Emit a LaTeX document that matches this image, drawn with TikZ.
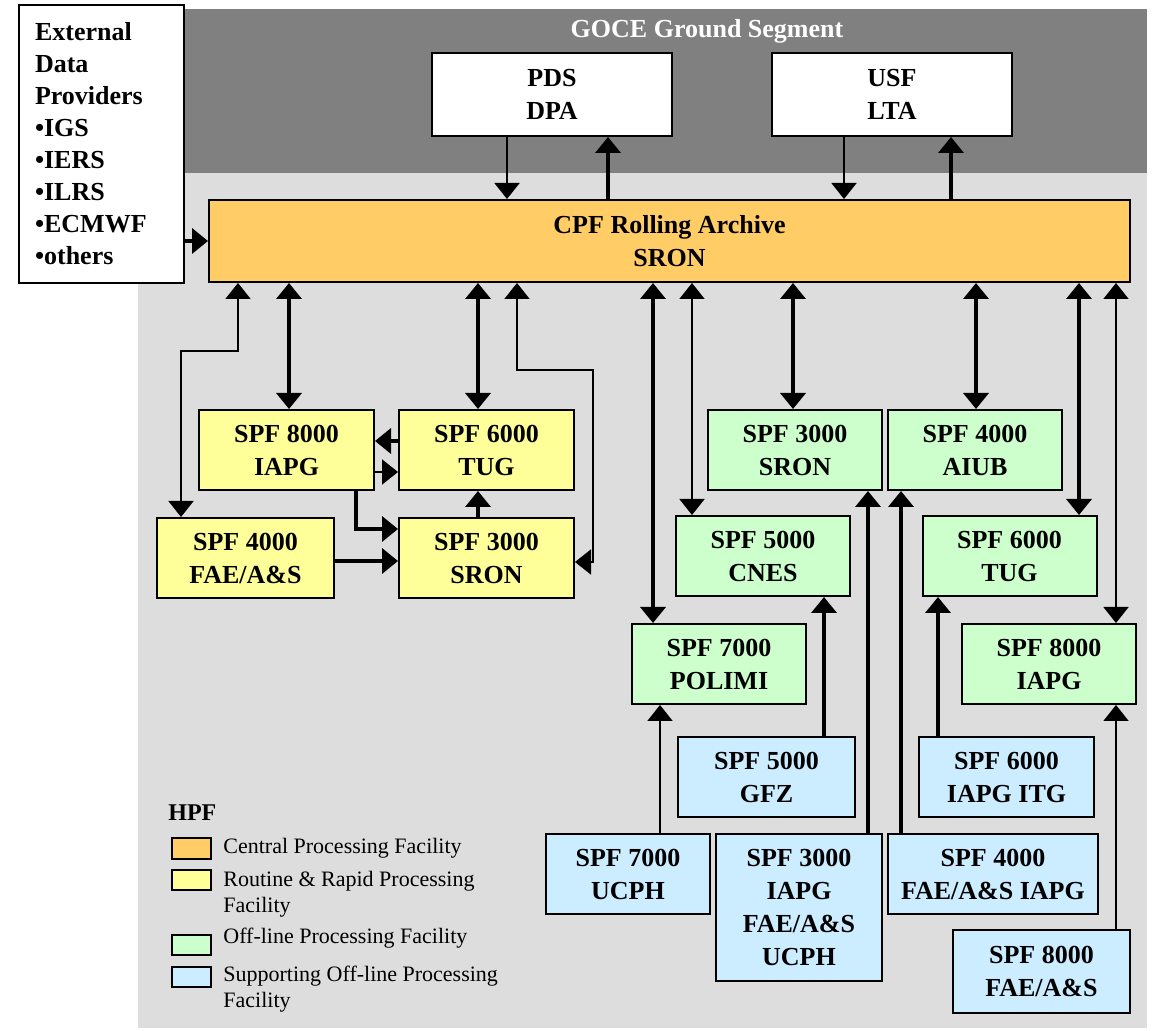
\documentclass[tikz,border=0pt]{standalone}
\usepackage{fontspec}
\setmainfont{Liberation Serif}
\usetikzlibrary{arrows.meta}

\definecolor{cpforange}{RGB}{255,204,102}
\definecolor{rrpfyellow}{RGB}{255,255,153}
\definecolor{opfgreen}{RGB}{204,255,204}
\definecolor{sopfblue}{RGB}{204,236,255}
\definecolor{gsdark}{RGB}{128,128,128}
\definecolor{hpflight}{RGB}{221,221,221}

\tikzset{
  facility/.style 2 args={draw, line width=1pt, align=center, inner sep=0pt,
    minimum width=#1*0.5pt, minimum height=#2*0.5pt,
    font=\fontsize{13}{16.5}\selectfont\bfseries},
  gsbox/.style={facility={240}{83}, fill=white},
  rrpf/.style={facility={175}{80}, fill=rrpfyellow},
  opf/.style={facility={174}{80}, fill=opfgreen},
  sopf/.style={facility={175}{80}, fill=sopfblue},
  swatch/.style={draw, line width=1pt, inner sep=0pt, minimum width=19.5pt, minimum height=10pt},
  legendtext/.style={anchor=west, align=left, inner sep=0pt, font=\fontsize{11}{13}\selectfont},
  flow/.style={line width=1.8pt},
  thinflow/.style={line width=0.9pt}
}

\begin{document}
\begin{tikzpicture}[x=0.5pt, y=-0.5pt, >={Triangle[width=12.5pt,length=8pt]}]
    \useasboundingbox (0,0) rectangle (1152,1031);

    % background areas
    \fill[hpflight] (138,173) rectangle (1147,1028);
    \fill[gsdark] (185,9) rectangle (1147,173);
    \node[text=white, font=\fontsize{13}{16}\selectfont\bfseries] (gs) at (707,31) {GOCE Ground Segment};

    % external data providers
    \node[draw, line width=1pt, fill=white, inner sep=0pt, align=left,
      minimum width=82.5pt, minimum height=139pt, text width=66.5pt,
      font=\fontsize{13}{16}\selectfont\bfseries] (edp) at (101.5,144)
      {External\\Data\\Providers\\•IGS\\•IERS\\•ILRS\\•ECMWF\\•others};

    % ground segment and central facility
    \node[gsbox] (pds) at (552,94.5) {PDS\\DPA};
    \node[gsbox] (usf) at (892,94.5) {USF\\LTA};
    \node[facility={921}{82}, fill=cpforange] (cpf) at (669.5,241) {CPF Rolling Archive\\SRON};

    % routine & rapid processing
    \node[rrpf] (y8000) at (286.5,450) {SPF 8000\\IAPG};
    \node[rrpf] (y6000) at (486.5,450) {SPF 6000\\TUG};
    \node[rrpf, minimum width=88.5pt] (y4000) at (245.5,558) {SPF 4000\\FAE/A\&S};
    \node[rrpf] (y3000) at (486.5,558) {SPF 3000\\SRON};

    % off-line processing
    \node[opf] (g3000) at (795,450) {SPF 3000\\SRON};
    \node[opf] (g4000) at (975,450) {SPF 4000\\AIUB};
    \node[opf] (g5000) at (763,556) {SPF 5000\\CNES};
    \node[opf] (g6000) at (1009.5,556) {SPF 6000\\TUG};
    \node[opf] (g7000) at (719,664) {SPF 7000\\POLIMI};
    \node[opf] (g8000) at (1049,664) {SPF 8000\\IAPG};

    % supporting off-line processing
    \node[sopf, minimum width=88.5pt] (b5000) at (766.5,777) {SPF 5000\\GFZ};
    \node[sopf] (b6000) at (1006.5,777) {SPF 6000\\IAPG ITG};
    \node[sopf, minimum width=82pt] (b7000) at (628,874) {SPF 7000\\UCPH};
    \node[sopf, minimum width=83pt, minimum height=73.5pt] (b3000) at (799,907.5) {SPF 3000\\IAPG\\FAE/A\&S\\UCPH};
    \node[sopf, minimum width=105pt] (b4000) at (993,874) {SPF 4000\\FAE/A\&S IAPG};
    \node[sopf, minimum width=88.5pt, minimum height=41.5pt] (b8000) at (1041.5,971.5) {SPF 8000\\FAE/A\&S};

    % lanes of the connectors
    \coordinate (pdsdown) at (507,0);
    \coordinate (pdsup) at (608,0);
    \coordinate (usfdown) at (844,0);
    \coordinate (usfup) at (951,0);
    \coordinate (lbend1) at (238,351);
    \coordinate (lbend2) at (181,351);
    \coordinate (iapg) at (289,0);
    \coordinate (tug) at (478,0);
    \coordinate (rbend1) at (517,370);
    \coordinate (rbend2) at (593,370);
    \coordinate (sronin) at (0,562);
    \coordinate (tugtoiapg) at (0,441);
    \coordinate (iapgtotug) at (0,472);
    \coordinate (ybend) at (356,529);
    \coordinate (faein) at (0,561);

    % external and ground segment links
    \draw[flow,->] (edp.east |- cpf.west) -- (cpf.west);
    \draw[thinflow,->] (pds.south -| pdsdown) -- (cpf.north -| pdsdown);
    \draw[flow,->] (cpf.north -| pdsup) -- (pds.south -| pdsup);
    \draw[thinflow,->] (usf.south -| usfdown) -- (cpf.north -| usfdown);
    \draw[flow,->] (cpf.north -| usfup) -- (usf.south -| usfup);

    % central facility <-> routine & rapid
    \draw[thinflow,<->] (cpf.south -| lbend1) -- (lbend1) -- (lbend2) -- (y4000.north -| lbend2);
    \draw[flow,<->] (cpf.south -| iapg) -- (y8000.north -| iapg);
    \draw[flow,<->] (cpf.south -| tug) -- (y6000.north -| tug);
    \draw[thinflow,<->] (cpf.south -| rbend1) -- (rbend1) -- (rbend2) |- (y3000.east |- sronin);

    % inside routine & rapid
    \draw[flow,->] (y6000.west |- tugtoiapg) -- (y8000.east |- tugtoiapg);
    \draw[thinflow,->] (y8000.east |- iapgtotug) -- (y6000.west |- iapgtotug);
    \draw[flow,->] (y8000.south -| ybend) -- (ybend) -- (y3000.west |- ybend);
    \draw[flow,->] (y4000.east |- faein) -- (y3000.west |- faein);
    \draw[flow,->] (y3000.north -| tug) -- (y6000.south -| tug);

    % central facility <-> off-line
    \draw[flow,<->] (cpf.south -| 653,0) -- (g7000.north -| 653,0);
    \draw[thinflow,<->] (cpf.south -| 692,0) -- (g5000.north -| 692,0);
    \draw[flow,<->] (cpf.south -| 793,0) -- (g3000.north -| 793,0);
    \draw[flow,<->] (cpf.south -| 976,0) -- (g4000.north -| 976,0);
    \draw[flow,<->] (cpf.south -| 1079,0) -- (g6000.north -| 1079,0);
    \draw[thinflow,<->] (cpf.south -| 1116,0) -- (g8000.north -| 1116,0);

    % supporting -> off-line
    \draw[thinflow,->] (b7000.north -| 660,0) -- (g7000.south -| 660,0);
    \draw[flow,->] (b5000.north -| 824,0) -- (g5000.south -| 824,0);
    \draw[flow,->] (b3000.north -| 868,0) -- (g3000.south -| 868,0);
    \draw[flow,->] (b4000.north -| 901,0) -- (g4000.south -| 901,0);
    \draw[flow,->] (b6000.north -| 938,0) -- (g6000.south -| 938,0);
    \draw[thinflow,->] (b8000.north -| 1116,0) -- (g8000.south -| 1116,0);

    % legend
    \node[anchor=west, inner sep=0pt, font=\fontsize{12}{14}\selectfont\bfseries] (hpf) at (168,813) {HPF};
    \node[swatch, fill=cpforange] (lgcpf) at (191.5,848.5) {};
    \node[swatch, fill=rrpfyellow] (lgrrpf) at (191.5,879.5) {};
    \node[swatch, fill=opfgreen] (lgopf) at (191.5,944.5) {};
    \node[swatch, fill=sopfblue] (lgsopf) at (191.5,977) {};
    \node[legendtext] (lgcpftext) at (223,848) {Central Processing Facility};
    \node[legendtext] (lgrrpftext) at (223,894) {Routine \& Rapid Processing\\Facility};
    \node[legendtext] (lgopftext) at (223,938) {Off-line Processing Facility};
    \node[legendtext] (lgsopftext) at (223,989.5) {Supporting Off-line Processing\\Facility};
\end{tikzpicture}
\end{document}
